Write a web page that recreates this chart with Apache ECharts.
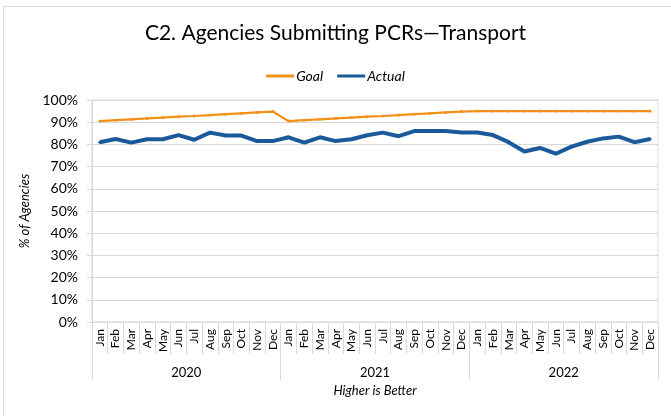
<!DOCTYPE html>
<html lang="en">
<head>
    <meta charset="UTF-8">
    <title>C2. Agencies Submitting PCRs - Transport</title>
    <script src="https://cdn.jsdelivr.net/npm/echarts@6/dist/echarts.min.js"></script>
    <style>
        html, body { margin: 0; padding: 0; background: #fff; }
        #chart { width: 671px; height: 416px; }
    </style>
</head>
<body>
    <div id="chart"></div>
    <script>
        // Data
        var months = ['Jan', 'Feb', 'Mar', 'Apr', 'May', 'Jun', 'Jul', 'Aug', 'Sep', 'Oct', 'Nov', 'Dec'];
        var years = ['2020', '2021', '2022'];
        var goal2020 = [90.5, 90.9, 91.3, 91.7, 92.1, 92.5, 92.8, 93.2, 93.6, 94.0, 94.4, 94.8];
        var goal2021 = [90.5, 90.9, 91.3, 91.7, 92.1, 92.5, 92.8, 93.2, 93.6, 94.0, 94.4, 94.8];
        var goal2022 = [95, 95, 95, 95, 95, 95, 95, 95, 95, 95, 95, 95];
        var actual2020 = [81.0, 82.4, 80.8, 82.3, 82.3, 84.2, 82.1, 85.3, 84.0, 84.0, 81.5, 81.5];
        var actual2021 = [83.2, 80.8, 83.2, 81.5, 82.3, 84.1, 85.3, 83.7, 86.0, 86.0, 86.0, 85.4];
        var actual2022 = [85.4, 84.2, 81.0, 76.8, 78.4, 75.8, 79.0, 81.2, 82.7, 83.5, 81.0, 82.4];

        var categories = [];
        years.forEach(function () { categories = categories.concat(months); });
        var goal = goal2020.concat(goal2021, goal2022);
        var actual = actual2020.concat(actual2021, actual2022);

        var font = 'Lato, "Open Sans", sans-serif';
        var chart = echarts.init(document.getElementById('chart'), null, { renderer: 'canvas' });

        chart.setOption({
            animation: false,
            textStyle: { fontFamily: font },
            title: {
                text: 'C2. Agencies Submitting PCRs\u2014Transport',
                left: 'center',
                top: 18,
                textStyle: { fontFamily: font, fontSize: 21, fontWeight: 'normal', color: '#000' }
            },
            legend: {
                top: 64,
                left: 'center',
                icon: 'rect',
                itemWidth: 28,
                itemHeight: 3,
                itemGap: 14,
                textStyle: { fontFamily: font, fontSize: 14, fontStyle: 'italic', color: '#000', padding: [0, 0, 0, -3] },
                data: ['Goal', 'Actual']
            },
            graphic: [{
                type: 'rect',
                shape: { x: 3.5, y: 6.5, width: 700, height: 500 },
                style: { fill: 'none', stroke: '#d9d9d9', lineWidth: 1 },
                silent: true
            }],
            grid: {
                left: 92, right: 13, top: 100, bottom: 94,
                show: true, borderColor: '#d9d9d9', borderWidth: 1
            },
            xAxis: [{
                type: 'category',
                data: categories,
                position: 'bottom',
                axisLine: { lineStyle: { color: '#d9d9d9' } },
                axisTick: { show: true, interval: 0, length: 32, lineStyle: { color: '#d9d9d9' } },
                axisLabel: { interval: 0, rotate: 90, fontSize: 12, color: '#000', margin: 7 }
            }, {
                type: 'category',
                data: years,
                position: 'bottom',
                axisLine: { show: false },
                axisTick: { show: true, interval: 0, length: 58, lineStyle: { color: '#d9d9d9' } },
                axisLabel: { interval: 0, fontSize: 13, color: '#000', margin: 44 },
                name: 'Higher is Better',
                nameLocation: 'middle',
                nameGap: 62,
                nameTextStyle: { fontFamily: font, fontSize: 13, fontStyle: 'italic', color: '#000' }
            }],
            yAxis: {
                type: 'value',
                min: 0,
                max: 100,
                interval: 10,
                name: '% of Agencies',
                nameLocation: 'middle',
                nameGap: 60,
                nameTextStyle: { fontFamily: font, fontSize: 13, fontStyle: 'italic', color: '#000' },
                axisLine: { show: true, lineStyle: { color: '#d9d9d9' } },
                axisTick: { show: true, length: 5, lineStyle: { color: '#d9d9d9' } },
                axisLabel: { formatter: '{value}%', fontSize: 14, color: '#000', margin: 14 },
                splitLine: { lineStyle: { color: '#d9d9d9', width: 1 } }
            },
            series: [{
                name: 'Goal',
                type: 'line',
                data: goal,
                symbol: 'circle',
                symbolSize: 3,
                itemStyle: { color: '#f39019' },
                lineStyle: { color: '#f39019', width: 2.2 }
            }, {
                name: 'Actual',
                type: 'line',
                data: actual,
                symbol: 'circle',
                symbolSize: 3,
                itemStyle: { color: '#1b5a9a' },
                lineStyle: { color: '#1b5a9a', width: 4 }
            }]
        });
    </script>
</body>
</html>
